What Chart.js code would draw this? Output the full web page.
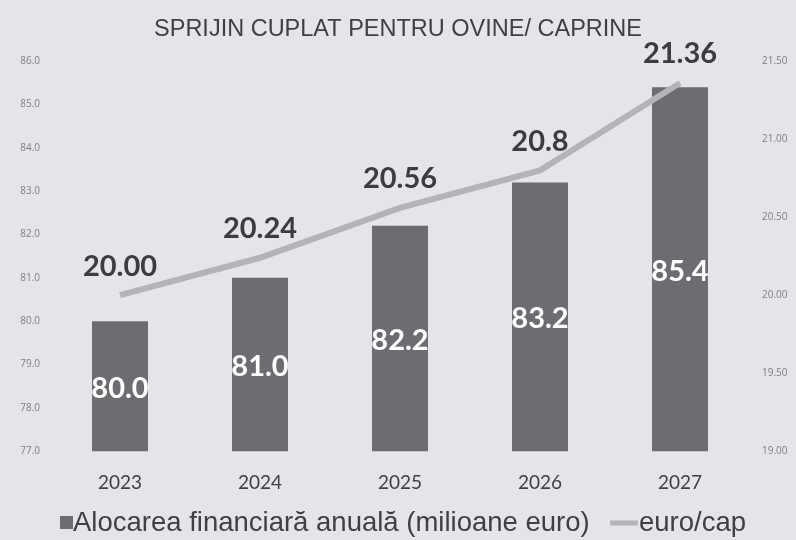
<!DOCTYPE html>
<html>
<head>
<meta charset="utf-8">
<script src="https://cdn.jsdelivr.net/npm/chart.js@4.4.0/dist/chart.umd.min.js"></script>
<style>
  html, body { margin: 0; padding: 0; background: #e3e5e9; }
  #wrap { width: 796px; height: 540px; }
</style>
</head>
<body>
<div id="wrap"><canvas id="chart" width="796" height="540"></canvas></div>
<script>
// data
const years = ["2023", "2024", "2025", "2026", "2027"];
const allocation = [80.0, 81.0, 82.2, 83.2, 85.4];
const allocationLabels = ["80.0", "81.0", "82.2", "83.2", "85.4"];
const euroPerHead = [20.00, 20.24, 20.56, 20.8, 21.36];
const euroPerHeadLabels = ["20.00", "20.24", "20.56", "20.8", "21.36"];
const seriesNames = ["Alocarea financiară anuală (milioane euro)", "euro/cap"];

const barColor = "#6c6d71";
const lineColor = "#b3b4b8";

// value labels drawn by hand (no datalabels plugin available offline)
const valueLabels = {
  id: "valueLabels",
  afterDatasetsDraw(chart) {
    const ctx = chart.ctx;
    const y = chart.scales.y;
    const y1 = chart.scales.y1;
    const x = chart.scales.x;
    ctx.save();
    ctx.textAlign = "center";
    ctx.textBaseline = "middle";
    ctx.font = "bold 29px Lato, 'Open Sans', sans-serif";

    allocation.forEach((v, i) => {
      const top = y.getPixelForValue(v);
      const base = y.getPixelForValue(y.min);
      ctx.fillStyle = "#ffffff";
      ctx.fillText(allocationLabels[i], x.getPixelForValue(i), (top + base) / 2 + 2);
    });

    euroPerHead.forEach((v, i) => {
      ctx.fillStyle = "#3b3c3f";
      ctx.fillText(euroPerHeadLabels[i], x.getPixelForValue(i), y1.getPixelForValue(v) - 29);
    });
    ctx.restore();
  }
};

// legend drawn by hand so the marker sits tight against the text
const bottomLegend = {
  id: "bottomLegend",
  afterDraw(chart) {
    const ctx = chart.ctx;
    const ly = 523;
    ctx.save();
    ctx.font = "27.5px 'Liberation Sans', Arial, sans-serif";
    ctx.textBaseline = "middle";
    ctx.fillStyle = barColor;
    ctx.fillRect(60, ly - 7, 13, 13);
    ctx.fillStyle = "#3f4043";
    ctx.fillText(seriesNames[0], 73, ly);
    ctx.strokeStyle = lineColor;
    ctx.lineWidth = 5;
    ctx.beginPath();
    ctx.moveTo(610, ly);
    ctx.lineTo(638, ly);
    ctx.stroke();
    ctx.fillText(seriesNames[1], 639, ly);
    ctx.restore();
  }
};

new Chart(document.getElementById("chart"), {
  type: "bar",
  data: {
    labels: years,
    datasets: [
      {
        type: "bar",
        label: seriesNames[0],
        data: allocation,
        backgroundColor: barColor,
        yAxisID: "y",
        categoryPercentage: 1,
        barPercentage: 0.4,
        order: 2
      },
      {
        type: "line",
        label: seriesNames[1],
        data: euroPerHead,
        borderColor: lineColor,
        backgroundColor: lineColor,
        borderWidth: 6,
        pointRadius: 0,
        tension: 0,
        yAxisID: "y1",
        order: 1
      }
    ]
  },
  options: {
    responsive: false,
    animation: false,
    layout: { padding: { left: 0, right: 0, top: 5, bottom: 26 } },
    scales: {
      x: {
        grid: { display: false, drawTicks: false },
        border: { display: false },
        ticks: {
          color: "#3f4043",
          font: { size: 19, family: "Lato, 'Open Sans', sans-serif" },
          padding: 20
        }
      },
      y: {
        position: "left",
        min: 77,
        max: 86,
        grid: { display: false, drawTicks: false },
        border: { display: false },
        afterFit(scale) { scale.width = 50; },
        ticks: {
          stepSize: 1,
          color: "#7d7f84",
          font: { size: 10, family: "'Open Sans', sans-serif" },
          padding: 10,
          callback: v => v.toFixed(1)
        }
      },
      y1: {
        position: "right",
        min: 19,
        max: 21.5,
        grid: { display: false, drawTicks: false },
        border: { display: false },
        afterFit(scale) { scale.width = 46; },
        ticks: {
          stepSize: 0.5,
          color: "#7d7f84",
          font: { size: 10, family: "'Open Sans', sans-serif" },
          padding: 12,
          callback: v => v.toFixed(2)
        }
      }
    },
    plugins: {
      title: {
        display: true,
        text: "SPRIJIN CUPLAT PENTRU OVINE/ CAPRINE",
        color: "#3f4043",
        font: { size: 23.5, family: "'Liberation Sans', Arial, sans-serif", weight: "normal" },
        padding: { top: 10, bottom: 18 }
      },
      legend: { display: false },
      tooltip: { enabled: false }
    }
  },
  plugins: [valueLabels, bottomLegend]
});
</script>
</body>
</html>
